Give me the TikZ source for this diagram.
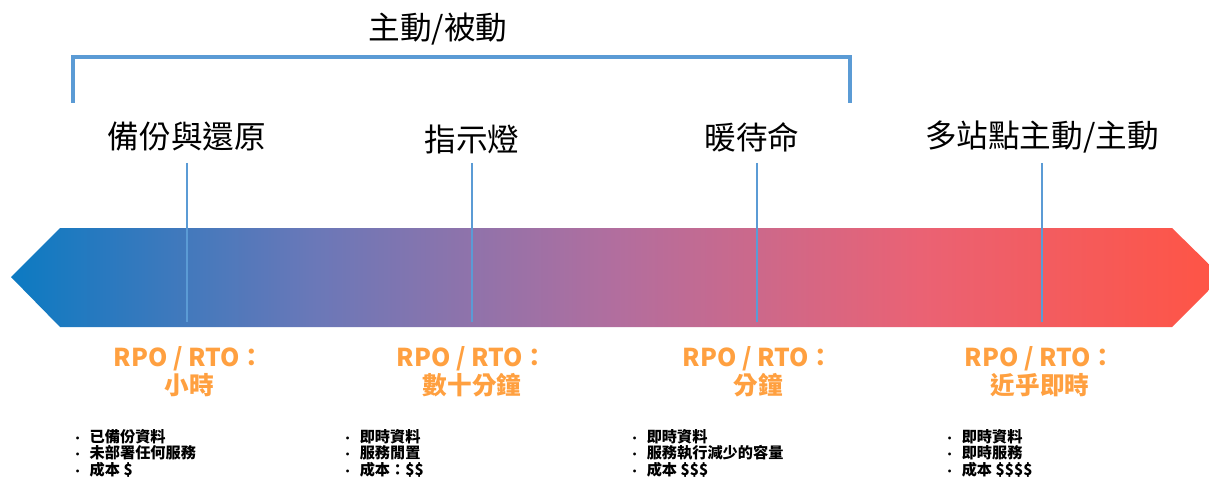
\documentclass[tikz,border=0pt]{standalone}
\usepackage{fontspec}
\setmainfont{Noto Sans CJK TC}
\usetikzlibrary{positioning}

\definecolor{lineblue}{RGB}{91,155,213}
\definecolor{bandleft}{RGB}{12,122,194}
\definecolor{bandq}{RGB}{106,120,184}
\definecolor{bandmid}{RGB}{178,110,158}
\definecolor{bandr}{RGB}{234,98,116}
\definecolor{bandright}{RGB}{255,84,68}
\definecolor{rpoorange}{RGB}{255,160,64}

\pgfdeclarehorizontalshading{bandshade}{100bp}{color(0bp)=(bandleft); color(25bp)=(bandleft);
  color(37.5bp)=(bandq); color(50bp)=(bandmid); color(62.5bp)=(bandr);
  color(75bp)=(bandright); color(100bp)=(bandright)}

\newcommand{\itm}{\makebox[1.15em][l]{\scalebox{0.7}{\textbullet}}}

\tikzset{
  stage/.style={font=\fontsize{22.5}{26}\selectfont, inner sep=0pt},
  tick/.style={draw=lineblue, line width=2.1pt},
  rpo/.style={text=rpoorange, font=\fontsize{17.5}{20}\selectfont\bfseries, align=center, inner sep=0pt},
  notes/.style={font=\fontsize{10.8}{11.7}\selectfont\bfseries, align=left, anchor=north west, inner sep=0pt}
}

\begin{document}
\begin{tikzpicture}[x=0.025cm, y=-0.025cm]
    \clip (0,0) rectangle (1209,485);
    \useasboundingbox (0,0) rectangle (1209,485);
    \def\gap{285} % distance between ticks

    % the band
    \shade[shading=bandshade]
        (11,277) -- (60,228) -- (1172,228) -- (1222,277) -- (1172,327) -- (60,327) -- cycle;

    % bracket over the first three
    \coordinate (K1) at (73,103);
    \coordinate (K2) at (73,57);
    \coordinate (K3) at (850,57);
    \coordinate (K4) at (850,103);
    \draw[lineblue, line width=2.8pt] (K1) -- (K2) -- (K3) -- (K4);
    \node[stage] (title) at (438,29) {主動/被動};

    \foreach \i in {1, 2, 3, 4} {
        \coordinate (A\i) at ({187+(\i-1)*\gap}, 163);
        \coordinate (B\i) at ({187+(\i-1)*\gap}, 322);
        \draw[tick] (A\i) -- (B\i);
    }

    \node[stage] (s1) at (187,137) {備份與還原};
    \node[stage] (s2) at (472,139) {指示燈};
    \node[stage] (s3) at (752,137) {暖待命};
    \node[stage] (s4) at (1042,137) {多站點主動/主動};

    \node[rpo] (r1) at (189,372) {RPO / RTO：\\小時};
    \node[rpo] (r2) at (472,372) {RPO / RTO：\\數十分鐘};
    \node[rpo] (r3) at (758,372) {RPO / RTO：\\分鐘};
    \node[rpo] (r4) at (1040,372) {RPO / RTO：\\近乎即時};

    \node[notes] (n1) at (72,429)
    {\itm 已備份資料\\ \itm 未部署任何服務\\ \itm 成本 \$};
    \node[notes] (n2) at (342,429)
    {\itm 即時資料\\ \itm 服務閒置\\ \itm 成本：\$\$};
    \node[notes] (n3) at (629,429)
    {\itm 即時資料\\ \itm 服務執行減少的容量\\ \itm 成本 \$\$\$};
    \node[notes] (n4) at (944,429)
    {\itm 即時資料\\ \itm 即時服務\\ \itm 成本 \$\$\$\$};
\end{tikzpicture}
\end{document}
